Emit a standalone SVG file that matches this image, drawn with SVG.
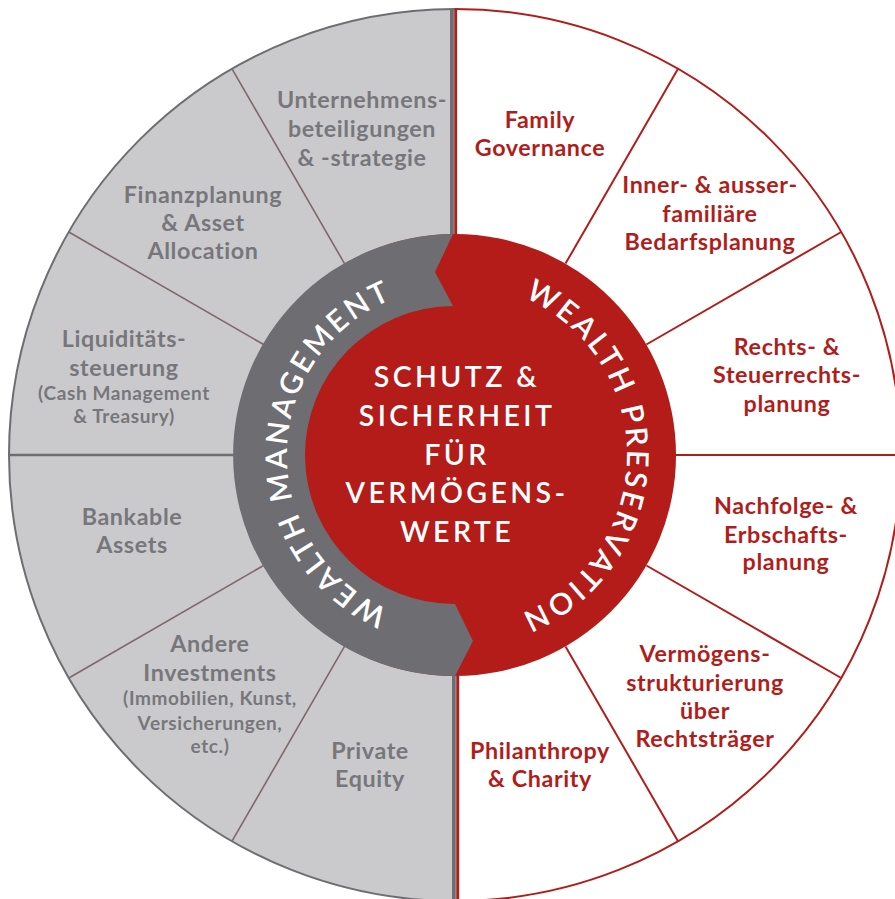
<svg xmlns="http://www.w3.org/2000/svg" width="895" height="899" viewBox="0 0 895 899">
<defs>
<style>
.lbl{font-family:Lato,"Liberation Sans",sans-serif;font-weight:700;font-size:23.3px;text-anchor:middle;letter-spacing:0.6px}
.g{fill:#77777b}
.r{fill:#b01e1b}
.sm{font-size:19px;letter-spacing:0.6px}
.ctr{font-family:Lato,"Liberation Sans",sans-serif;font-weight:600;font-size:28.5px;fill:#fff;text-anchor:middle;letter-spacing:3.4px}
.ring{font-family:Lato,"Liberation Sans",sans-serif;font-weight:600;font-size:30px;fill:#fff;letter-spacing:2.9px}
.dl{stroke:#7f6868;stroke-width:1.6;fill:none}
.dr{stroke:#b01e1b;stroke-width:2;fill:none}
</style>
<path id="arcL" d="M455,623 A168,168 0 0 1 455,287"/>
<path id="arcR" d="M455,283 A172,172 0 0 1 455,627"/>
</defs>

<g id="background">
<path d="M455,9 A446,446 0 0 0 455,901 Z" fill="#cacacc"/>
<path d="M455,9 A446,446 0 0 0 455,901" fill="none" stroke="#6e6e72" stroke-width="2"/>
<path d="M455,9 A446,446 0 0 1 455,901" fill="none" stroke="#b01e1b" stroke-width="2"/>
</g>

<g id="connectors">
<line class="dl" x1="344.5" y1="263.6" x2="232" y2="68.8"/>
<line class="dl" x1="263.6" y1="344.5" x2="68.8" y2="232"/>
<line x1="9" y1="455" x2="236" y2="455" stroke="#6e6e72" stroke-width="2.6"/>
<line class="dl" x1="263.6" y1="565.5" x2="68.8" y2="678"/>
<line class="dl" x1="344.5" y1="646.4" x2="232" y2="841.2"/>
<line class="dr" x1="565.5" y1="263.6" x2="678" y2="68.8"/>
<line class="dr" x1="646.4" y1="344.5" x2="841.2" y2="232"/>
<line class="dr" x1="674" y1="455" x2="901" y2="455"/>
<line class="dr" x1="646.4" y1="565.5" x2="841.2" y2="678"/>
<line class="dr" x1="565.5" y1="646.4" x2="678" y2="841.2"/>
<rect x="450" y="9" width="3.8" height="228" fill="#6e6e72"/>
<line x1="455.7" y1="9" x2="455.7" y2="237" stroke="#b01e1b" stroke-width="2.8"/>
<rect x="452" y="673" width="3.8" height="228" fill="#6e6e72"/>
<line x1="457.7" y1="673" x2="457.7" y2="901" stroke="#b01e1b" stroke-width="3"/>
</g>

<g id="ring">
<circle cx="455" cy="455" r="221" fill="#b31c18"/>
<path d="M453,234 A221,221 0 0 0 455,676 L473,641 L455,604 A149,149 0 0 1 453,306 L435,272 Z" fill="#6e6e72"/>
</g>

<g id="wealth-management">
<text class="ring"><textPath href="#arcL" startOffset="50.5%" text-anchor="middle">WEALTH MANAGEMENT</textPath></text>
</g>
<g id="wealth-preservation">
<text class="ring"><textPath href="#arcR" startOffset="50.5%" text-anchor="middle">WEALTH PRESERVATION</textPath></text>
</g>

<g id="center">
<text class="ctr" x="457" y="387">SCHUTZ &amp;</text>
<text class="ctr" x="457" y="426">SICHERHEIT</text>
<text class="ctr" x="457" y="465">FÜR</text>
<text class="ctr" x="457" y="503">VERMÖGENS-</text>
<text class="ctr" x="457" y="542">WERTE</text>
</g>

<g id="unternehmensbeteiligungen" class="lbl g">
<text x="362" y="108">Unternehmens-</text>
<text x="362" y="137">beteiligungen</text>
<text x="362" y="166">&amp; -strategie</text>
</g>
<g id="finanzplanung" class="lbl g">
<text x="203" y="203">Finanzplanung</text>
<text x="203" y="231">&amp; Asset</text>
<text x="203" y="259">Allocation</text>
</g>
<g id="liquiditaetssteuerung" class="lbl g">
<text x="124" y="347">Liquiditäts-</text>
<text x="124" y="376">steuerung</text>
<text class="sm" x="124" y="400">(Cash Management</text>
<text class="sm" x="124" y="423">&amp; Treasury)</text>
</g>
<g id="bankable-assets" class="lbl g">
<text x="132" y="525">Bankable</text>
<text x="132" y="553">Assets</text>
</g>
<g id="andere-investments" class="lbl g">
<text x="210" y="652">Andere</text>
<text x="210" y="681">Investments</text>
<text class="sm" x="210" y="705">(Immobilien, Kunst,</text>
<text class="sm" x="210" y="730">Versicherungen,</text>
<text class="sm" x="210" y="753">etc.)</text>
</g>
<g id="private-equity" class="lbl g">
<text x="370" y="759">Private</text>
<text x="370" y="787">Equity</text>
</g>

<g id="family-governance" class="lbl r">
<text x="540" y="128">Family</text>
<text x="540" y="156">Governance</text>
</g>
<g id="bedarfsplanung" class="lbl r">
<text x="710" y="193">Inner- &amp; ausser-</text>
<text x="710" y="222">familiäre</text>
<text x="710" y="250">Bedarfsplanung</text>
</g>
<g id="steuerrechtsplanung" class="lbl r">
<text x="787" y="355">Rechts- &amp;</text>
<text x="787" y="383">Steuerrechts-</text>
<text x="787" y="412">planung</text>
</g>
<g id="erbschaftsplanung" class="lbl r">
<text x="786" y="514">Nachfolge- &amp;</text>
<text x="786" y="543">Erbschafts-</text>
<text x="786" y="570">planung</text>
</g>
<g id="vermoegensstrukturierung" class="lbl r">
<text x="705" y="662">Vermögens-</text>
<text x="705" y="691">strukturierung</text>
<text x="705" y="719">über</text>
<text x="705" y="747">Rechtsträger</text>
</g>
<g id="philanthropy" class="lbl r">
<text x="540" y="759">Philanthropy</text>
<text x="540" y="787">&amp; Charity</text>
</g>
</svg>
